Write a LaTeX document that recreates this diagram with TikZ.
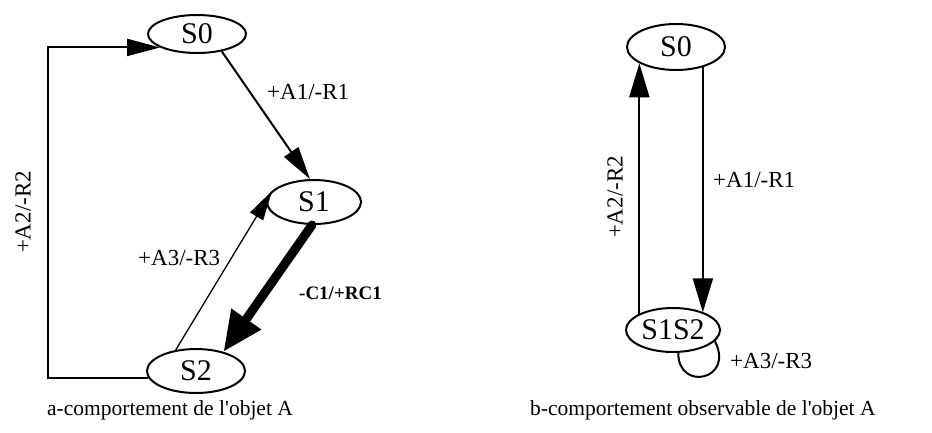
\documentclass[tikz,border=0pt]{standalone}
\usepackage{fontspec}
\setmainfont{Liberation Serif}
\usetikzlibrary{shapes.geometric,arrows.meta}

\begin{document}
\begin{tikzpicture}[x=1pt,y=-1pt,
  state/.style={ellipse,draw,line width=2pt,inner sep=0pt,
    minimum width=98pt,minimum height=44pt,font=\fontsize{30}{34}\selectfont},
  edge/.style={line width=2pt,-{Triangle[length=33pt,width=17pt]}},
  edgeb/.style={line width=2pt,-{Triangle[length=34pt,width=20pt]}},
  lbl/.style={font=\fontsize{23}{26}\selectfont,inner sep=0pt},
  caption/.style={font=\fontsize{21.5}{26}\selectfont,inner sep=0pt,anchor=base west}]
\useasboundingbox (0,0) rectangle (932,432);

% ---- (a) behaviour of object A ----
\node[state,minimum height=38pt] (a0) at (197,34) {S0};
\node[state,minimum width=94pt] (a1) at (314,202) {S1};
\node[state] (a2) at (196,371) {S2};
\coordinate (ac) at (48,0);

\draw[edge] (a2.188) -- (a2.188 -| ac) -- (a0.200 -| ac) -- (a0.200);
\draw[edge] (a0.-35) -- (a1.100);
\draw[line width=1.3pt,-{Triangle[length=30pt,width=15pt]}] (a2.134) -- (a1.165);
\draw[line width=9pt,line cap=round,-{Triangle[length=40pt,width=34pt]}] (a1.-95) -- (a2.35);

\node[lbl,rotate=90] (la2) at (23,212) {+A2/-R2};
\node[lbl,anchor=base west] (la1) at (267,99) {+A1/-R1};
\node[lbl,anchor=base west] (la3) at (138,265) {+A3/-R3};
\node[lbl,anchor=base west,font=\fontsize{19}{22}\selectfont\bfseries] (lc1) at (299,299) {-C1/+RC1};

\node[caption] (capa) at (47,415) {a-comportement de l\textquotesingle objet A};

% ---- (b) observable behaviour of object A ----
\node[state,minimum height=46pt] (b0) at (676,47) {S0};
\node[state,minimum width=94pt] (b12) at (673,330) {S1S2};

\draw[edgeb] (b12.154) -- (b12.154 |- b0.204);
\draw[edgeb] (b0.-37) -- (b0.-37 |- b12.30);
\draw[line width=2pt] (b12.-77) .. controls (678,392) and (735,380) .. (b12.-15);

\node[lbl,rotate=90] (lb2) at (615,197) {+A2/-R2};
\node[lbl,anchor=base west] (lb1) at (713,187) {+A1/-R1};
\node[lbl,anchor=base west] (lb3) at (730,368) {+A3/-R3};

\node[caption] (capb) at (530,415) {b-comportement observable de l\textquotesingle objet A};
\end{tikzpicture}
\end{document}
